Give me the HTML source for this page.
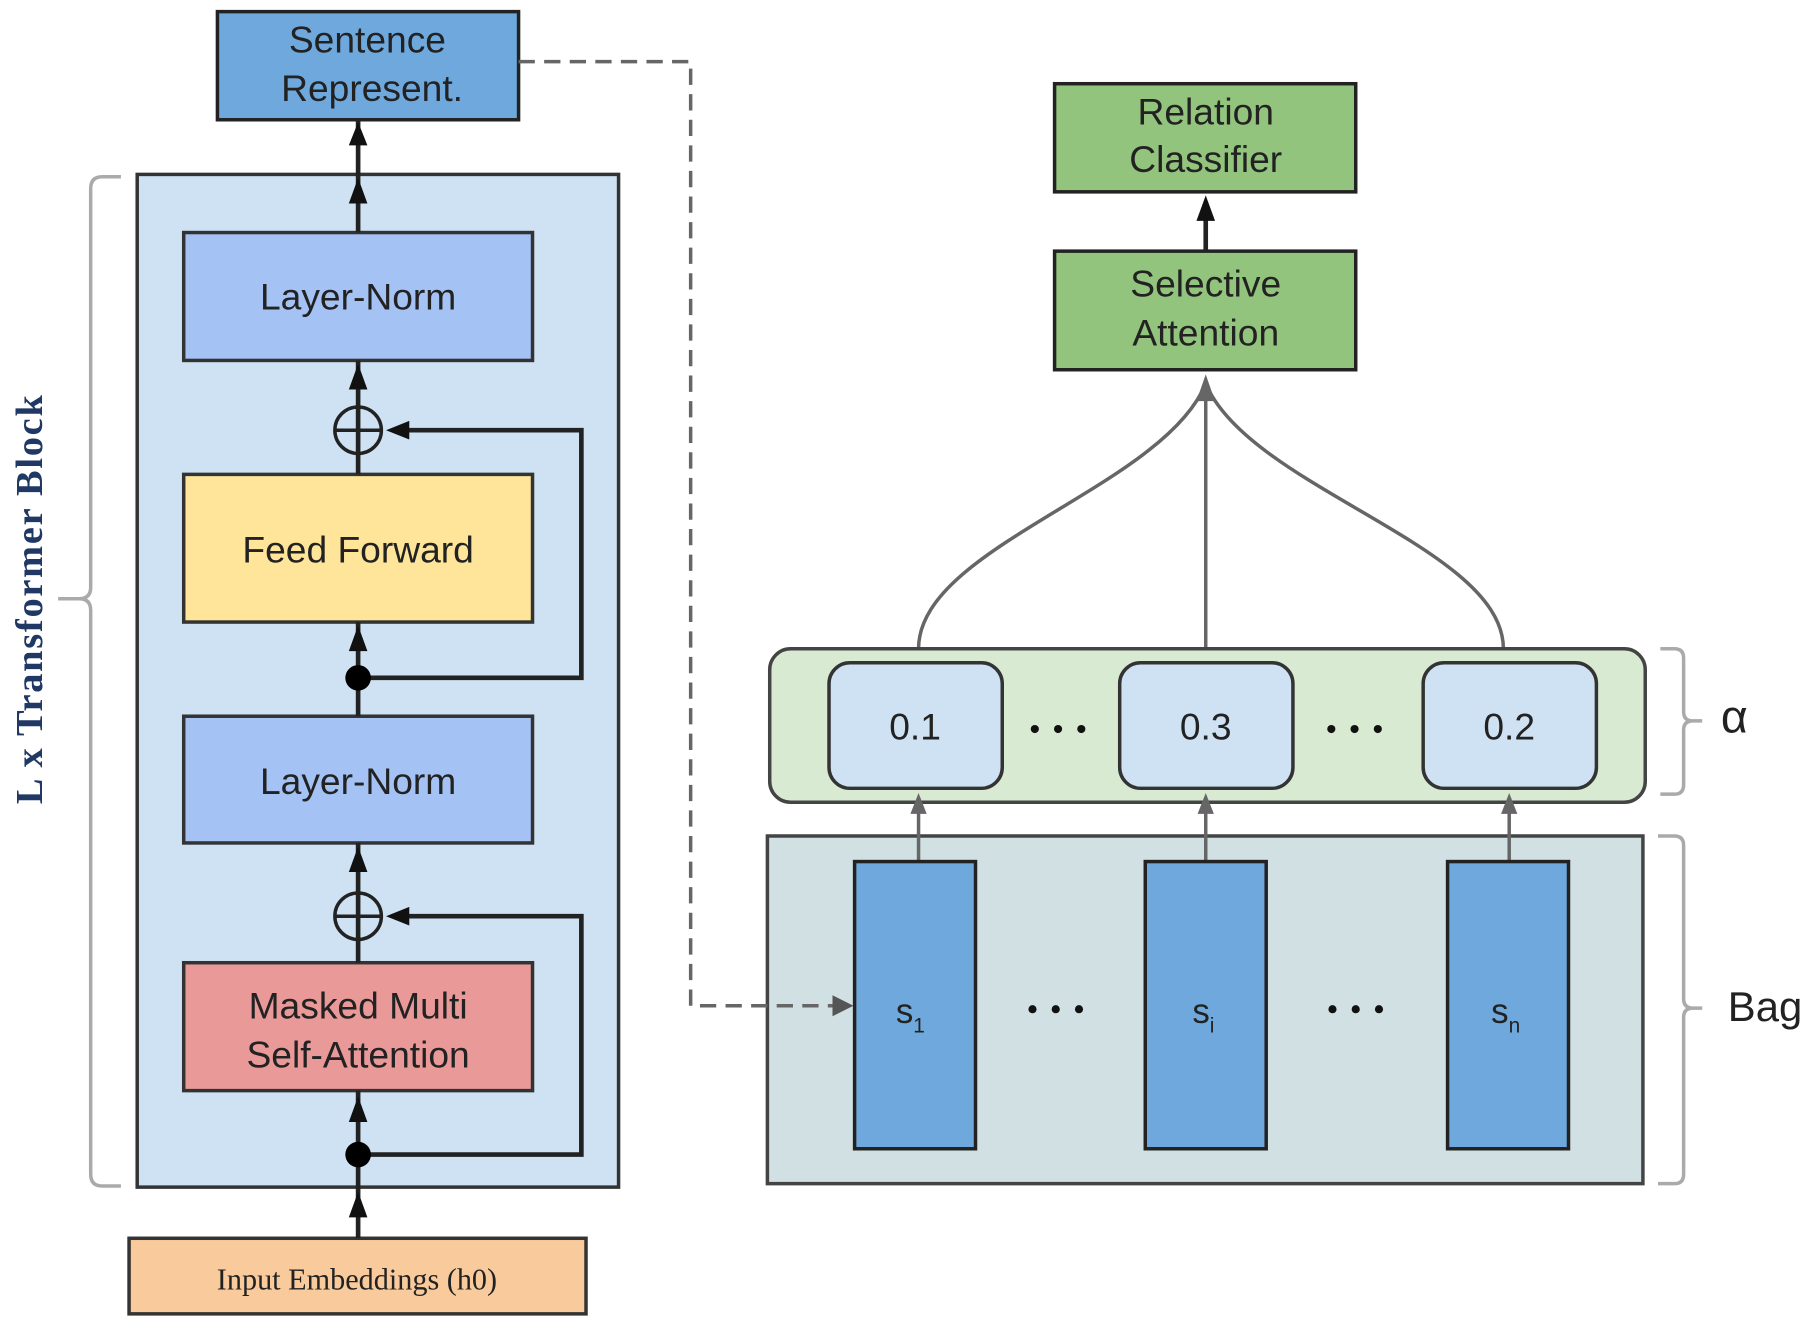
<!DOCTYPE html>
<html><head><meta charset="utf-8"><style>html,body{margin:0;padding:0;background:#fff}svg{display:block}</style></head><body>
<svg width="1815" height="1322" viewBox="0 0 1561 1137" preserveAspectRatio="none" xmlns="http://www.w3.org/2000/svg">
<g font-family="Liberation Sans, sans-serif" fill="#222">
<!-- left brace -->
<path d="M104,152 H88 Q78,152 78,162 V505 Q78,515 68,515 H50 M68,515 Q78,515 78,525 V1010 Q78,1020 88,1020 H104" fill="none" stroke="#aaa" stroke-width="3"/>
<text transform="translate(36,515) rotate(-90)" text-anchor="middle" font-family="Liberation Serif, serif" font-weight="bold" font-size="33" letter-spacing="1.5" fill="#1f3864">L  x  Transformer Block</text>
<!-- big block -->
<rect x="118" y="150" width="414" height="871" fill="#cfe2f3" stroke="#333" stroke-width="3"/>
<rect x="187" y="10" width="259" height="93" fill="#6fa8dc" stroke="#222" stroke-width="3"/>
<text x="316" y="45" text-anchor="middle" font-size="32">Sentence</text>
<text x="320" y="87" text-anchor="middle" font-size="32">Represent.</text>
<rect x="158" y="200" width="300" height="110" fill="#a4c2f4" stroke="#333" stroke-width="3"/>
<text x="308" y="266" text-anchor="middle" font-size="32">Layer-Norm</text>
<rect x="158" y="408" width="300" height="127" fill="#ffe599" stroke="#333" stroke-width="3"/>
<text x="308" y="484" text-anchor="middle" font-size="32">Feed Forward</text>
<rect x="158" y="616" width="300" height="109" fill="#a4c2f4" stroke="#333" stroke-width="3"/>
<text x="308" y="683" text-anchor="middle" font-size="32">Layer-Norm</text>
<rect x="158" y="828" width="300" height="110" fill="#ea9999" stroke="#333" stroke-width="3"/>
<text x="308" y="876" text-anchor="middle" font-size="32">Masked Multi</text>
<text x="308" y="918" text-anchor="middle" font-size="32">Self-Attention</text>
<rect x="111" y="1065" width="393" height="65" fill="#f9cb9c" stroke="#333" stroke-width="3"/>
<text x="307" y="1109" text-anchor="middle" font-family="Liberation Serif, serif" font-size="26">Input Embeddings (h0)</text>
<!-- vertical connectors -->
<g stroke="#222" stroke-width="4" fill="none">
<path d="M308,1065 V938"/><path d="M308,828 V725"/><path d="M308,616 V535"/><path d="M308,408 V310"/><path d="M308,200 V103"/>
<path d="M308,583 H500 V370 H340"/><path d="M308,993 H500 V788 H340"/>
<circle cx="308" cy="370" r="20" stroke-width="3"/><path d="M288,370 H328" stroke-width="3"/>
<circle cx="308" cy="788" r="20" stroke-width="3"/><path d="M288,788 H328" stroke-width="3"/>
</g>
<circle cx="308" cy="583" r="11" fill="#000"/><circle cx="308" cy="993" r="11" fill="#000"/>
<g fill="#111">
<path d="M300,125 L308,105 L316,125 z"/><path d="M300,175 L308,153 L316,175 z"/>
<path d="M300,335 L308,313 L316,335 z"/><path d="M300,750 L308,728 L316,750 z"/>
<path d="M300,560 L308,538 L316,560 z"/><path d="M300,965 L308,943 L316,965 z"/>
<path d="M300,1047 L308,1025 L316,1047 z"/>
<path d="M352,362 L332,370 L352,378 z"/><path d="M352,780 L332,788 L352,796 z"/>
</g>
<!-- right -->
<rect x="907" y="72" width="259" height="93" fill="#93c47d" stroke="#222" stroke-width="3"/>
<text x="1037" y="107" text-anchor="middle" font-size="32">Relation</text>
<text x="1037" y="148" text-anchor="middle" font-size="32">Classifier</text>
<rect x="907" y="216" width="259" height="102" fill="#93c47d" stroke="#222" stroke-width="3"/>
<text x="1037" y="255" text-anchor="middle" font-size="32">Selective</text>
<text x="1037" y="297" text-anchor="middle" font-size="32">Attention</text>
<path d="M1037,216 V185" stroke="#222" stroke-width="4"/><path d="M1029,190 L1037,168 L1045,190 z" fill="#111"/>
<g stroke="#666" stroke-width="3" fill="none">
<path d="M790,558 C790,470 1000,420 1037,330"/>
<path d="M1037,558 V330"/>
<path d="M1293,558 C1293,470 1075,420 1037,330"/>
</g>
<path d="M1029,345 L1037,322 L1045,345 z" fill="#666"/>
<rect x="662" y="558" width="753" height="132" rx="18" fill="#d9ead3" stroke="#444" stroke-width="3"/>
<rect x="660" y="719" width="753" height="299" fill="#d0e0e3" stroke="#444" stroke-width="3"/>
<g stroke="#666" stroke-width="3">
<path d="M790,741 V690"/><path d="M1037,741 V690"/><path d="M1298,741 V690"/>
</g>
<g fill="#666"><path d="M783,700 L790,682 L797,700 z"/><path d="M1030,700 L1037,682 L1044,700 z"/><path d="M1291,700 L1298,682 L1305,700 z"/></g>
<g fill="#cfe2f3" stroke="#333" stroke-width="3">
<rect x="713" y="570" width="149" height="108" rx="18"/><rect x="963" y="570" width="149" height="108" rx="18"/><rect x="1224" y="570" width="149" height="108" rx="18"/>
</g>
<g font-size="32" text-anchor="middle"><text x="787" y="636">0.1</text><text x="1037" y="636">0.3</text><text x="1298" y="636">0.2</text></g>
<g fill="#6fa8dc" stroke="#222" stroke-width="3">
<rect x="735" y="741" width="104" height="247"/><rect x="985" y="741" width="104" height="247"/><rect x="1245" y="741" width="104" height="247"/>
</g>
<g font-size="30" text-anchor="middle"><text x="783" y="880">s<tspan font-size="18" dy="8">1</tspan></text><text x="1035" y="880">s<tspan font-size="18" dy="8">i</tspan></text><text x="1295" y="880">s<tspan font-size="18" dy="8">n</tspan></text></g>
<!-- dashed link (on top) -->
<path d="M446,53 H594 V865 H720" fill="none" stroke="#666" stroke-width="3" stroke-dasharray="14,8"/>
<path d="M716,856 L734,865 L716,874 z" fill="#555"/>
<g fill="#111">
<circle cx="890" cy="627" r="3.5"/><circle cx="910" cy="627" r="3.5"/><circle cx="930" cy="627" r="3.5"/>
<circle cx="1145" cy="627" r="3.5"/><circle cx="1165" cy="627" r="3.5"/><circle cx="1185" cy="627" r="3.5"/>
<circle cx="888" cy="868" r="3.5"/><circle cx="908" cy="868" r="3.5"/><circle cx="928" cy="868" r="3.5"/>
<circle cx="1146" cy="868" r="3.5"/><circle cx="1166" cy="868" r="3.5"/><circle cx="1186" cy="868" r="3.5"/>
</g>
<g stroke="#aaa" stroke-width="3" fill="none">
<path d="M1428,558 H1440 Q1448,558 1448,566 V612 Q1448,620 1456,620 H1464 M1456,620 Q1448,620 1448,628 V675 Q1448,683 1440,683 H1428"/>
<path d="M1426,719 H1440 Q1448,719 1448,727 V859 Q1448,867 1456,867 H1464 M1456,867 Q1448,867 1448,875 V1010 Q1448,1018 1440,1018 H1426"/>
</g>
<text x="1480" y="630" font-size="40">α</text>
<text x="1486" y="878" font-size="36">Bag</text>
</g>
</svg>
</body></html>
